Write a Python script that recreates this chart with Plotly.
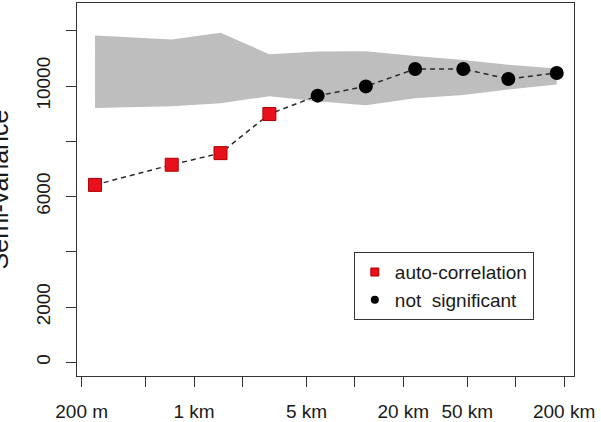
import plotly.graph_objects as go

# ---- data ----
dist_km = [0.242, 0.726, 1.46, 2.94, 5.87, 11.7, 23.7, 47.2, 90.0, 180.0]
semivar = [6420, 7150, 7570, 8985, 9650, 9985, 10615, 10615, 10255, 10470]
significant = [True, True, True, True, False, False, False, False, False, False]
band_upper = [11830, 11680, 11930, 11150, 11250, 11260, 11090, 10940, 10770, 10630]
band_lower = [9200, 9270, 9380, 9630, 9450, 9300, 9560, 9670, 9870, 10050]

x_tickvals = [0.2, 0.5, 1, 2, 5, 10, 20, 50, 100, 200]
x_ticktext = ["200 m", "", "1 km", "", "5 km", "", "20 km", "50 km", "", "200 km"]
y_tickvals = [0, 2000, 4000, 6000, 8000, 10000, 12000]
y_ticktext = ["0", "2000", "", "6000", "", "10000", ""]

FONT = "Liberation Sans, Arial, sans-serif"
TXT = "#1a1a1a"

fig = go.Figure()

# envelope band
fig.add_trace(go.Scatter(x=dist_km, y=band_lower, mode="lines",
                         line=dict(width=0, color="#bebebe"),
                         showlegend=False, hoverinfo="skip"))
fig.add_trace(go.Scatter(x=dist_km, y=band_upper, mode="lines",
                         line=dict(width=0, color="#bebebe"),
                         fill="tonexty", fillcolor="#bebebe",
                         showlegend=False, hoverinfo="skip"))

# dashed connecting line
fig.add_trace(go.Scatter(x=dist_km, y=semivar, mode="lines",
                         line=dict(color="#2a2a2a", width=1.5, dash="5px,4px"),
                         showlegend=False, hoverinfo="skip"))

sx = [d for d, s in zip(dist_km, significant) if s]
sy = [v for v, s in zip(semivar, significant) if s]
nx = [d for d, s in zip(dist_km, significant) if not s]
ny = [v for v, s in zip(semivar, significant) if not s]

fig.add_trace(go.Scatter(x=sx, y=sy, mode="markers",
                         marker=dict(symbol="square", size=13, color="#e8101a",
                                     line=dict(color="#b00000", width=1)),
                         showlegend=False))
fig.add_trace(go.Scatter(x=nx, y=ny, mode="markers",
                         marker=dict(symbol="circle", size=14, color="#000000"),
                         showlegend=False))

# legend entries (small symbols as in the reference)
fig.add_trace(go.Scatter(x=[None], y=[None], mode="markers", name="auto-correlation",
                         marker=dict(symbol="square", size=8, color="#e8101a",
                                     line=dict(color="#b00000", width=1))))
fig.add_trace(go.Scatter(x=[None], y=[None], mode="markers", name="not  significant",
                         marker=dict(symbol="circle", size=8, color="#000000")))

fig.update_layout(
    width=601, height=422,
    margin=dict(l=77, r=27, t=3, b=46),
    paper_bgcolor="white", plot_bgcolor="white",
    font=dict(family=FONT, size=19, color=TXT),
    showlegend=True,
    legend=dict(x=0.557, y=0.332, xanchor="left", yanchor="top",
                bgcolor="white", bordercolor="#333333", borderwidth=1,
                font=dict(family=FONT, size=19, color=TXT),
                itemsizing="trace", tracegroupgap=0, traceorder="normal",
                itemwidth=30),
    xaxis=dict(type="log", range=[-0.728, 2.3626], automargin=False,
               tickvals=x_tickvals, ticktext=x_ticktext,
               ticks="outside", ticklen=10, tickwidth=1, tickcolor="#333333",
               showline=True, linecolor="#333333", linewidth=1, mirror=True,
               showgrid=False, zeroline=False, ticklabelstandoff=8),
    yaxis=dict(range=[-496, 13004], automargin=False,
               tickvals=y_tickvals, ticktext=y_ticktext, tickangle=-90,
               ticks="outside", ticklen=10, tickwidth=1, tickcolor="#333333",
               showline=True, linecolor="#333333", linewidth=1, mirror=True,
               showgrid=False, zeroline=False, ticklabelstandoff=8),
    annotations=[dict(text="Semi-variance", textangle=-90, xref="paper", yref="paper",
                      x=-0.125, y=0.5, xanchor="right", yanchor="middle",
                      showarrow=False, font=dict(family=FONT, size=25, color=TXT))],
)

fig.write_html("out.html")
